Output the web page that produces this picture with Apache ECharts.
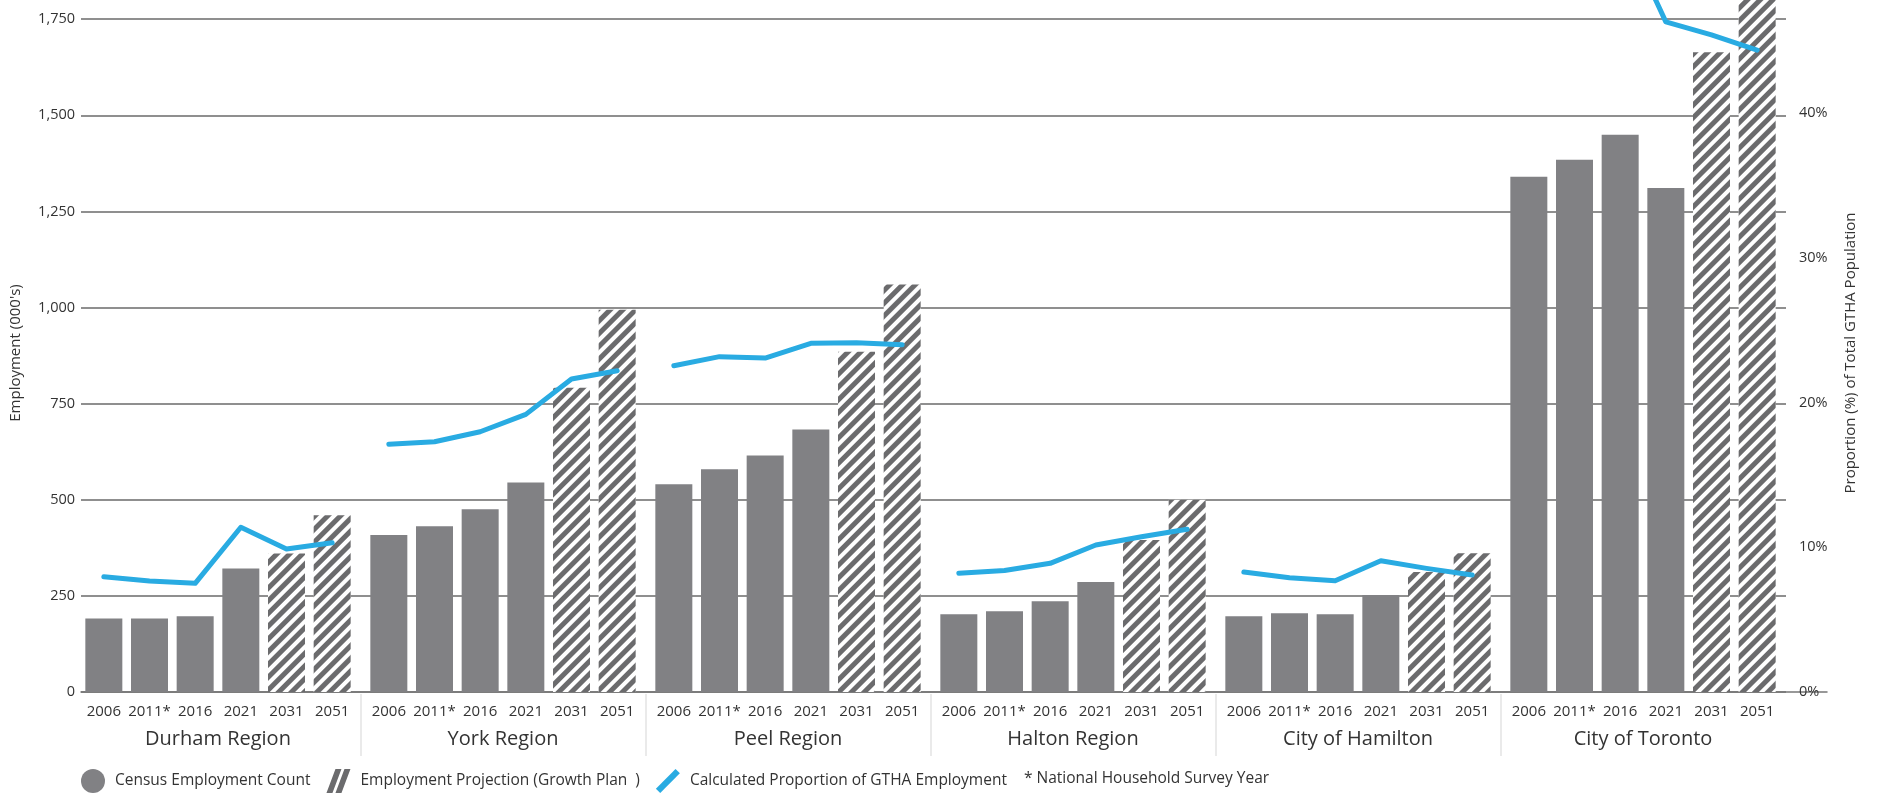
<!DOCTYPE html>
<html><head><meta charset="utf-8">
<script src="https://cdn.jsdelivr.net/npm/echarts@6/dist/echarts.min.js"></script>
<style>html,body{margin:0;padding:0;background:#fff}#c{width:1879px;height:795px}</style>
</head><body><div id="c"></div>
<script>
// ---- data ----
const years = ['2006', '2011*', '2016', '2021', '2031', '2051'];
const regions = ['Durham Region', 'York Region', 'Peel Region', 'Halton Region', 'City of Hamilton', 'City of Toronto'];
const censusYearCount = 4; // first four years are census counts, last two are projections

const durhamEmployment   = [191, 191, 197, 321, 360, 460];
const yorkEmployment     = [408, 431, 475, 545, 791, 994];
const peelEmployment     = [540, 579, 615, 683, 885, 1060];
const haltonEmployment   = [202, 210, 236, 286, 395, 500];
const hamiltonEmployment = [197, 205, 202, 252, 312, 361];
const torontoEmployment  = [1340, 1384, 1449, 1311, 1664, 1980];

const durhamShare   = [7.97, 7.67, 7.51, 11.38, 9.88, 10.31];
const yorkShare     = [17.11, 17.29, 17.98, 19.18, 21.62, 22.20];
const peelShare     = [22.54, 23.17, 23.07, 24.09, 24.13, 23.99];
const haltonShare   = [8.20, 8.40, 8.89, 10.16, 10.73, 11.24];
const hamiltonShare = [8.29, 7.90, 7.69, 9.07, 8.54, 8.08];
const torontoShare  = [51.5, 52.3, 53.1, 46.3, 45.4, 44.35];

const employmentAxis = { min: 0, max: 2000, interval: 250 };
const shareAxis = { min: 0, max: 53.13, interval: 10 };

const legendNames = ['Census Employment Count', 'Employment Projection (Growth Plan  )', 'Calculated Proportion of GTHA Employment'];
const footnote = '* National Household Survey Year';

// ---- build ----
const employmentByRegion = [durhamEmployment, yorkEmployment, peelEmployment, haltonEmployment, hamiltonEmployment, torontoEmployment];
const shareByRegion = [durhamShare, yorkShare, peelShare, haltonShare, hamiltonShare, torontoShare];

const FONT = 'Open Sans';
const TXT = '#333';
const PLOT_TOP = -77, PLOT_BOTTOM = 103;
const GROUP_W = 285, GROUP_LEFT = 76;

const grid = [], xAxis = [], yAxis = [], series = [];

// master grid: gridlines + axes labels
grid.push({ left: 81, right: 93, top: PLOT_TOP, bottom: PLOT_BOTTOM, outerBoundsMode: 'none' });
xAxis.push({ gridIndex: 0, type: 'value', min: 0, max: 1, show: false });
yAxis.push({
  gridIndex: 0, type: 'value', min: employmentAxis.min, max: employmentAxis.max, interval: employmentAxis.interval,
  position: 'left', axisLine: { show: false }, axisTick: { show: false },
  axisLabel: { margin: 6, fontSize: 14.5, color: TXT, fontFamily: FONT,
    formatter: v => v.toLocaleString('en-US') },
  splitLine: { show: true, lineStyle: { color: '#6a6a6a', width: 1.5 } }
});
yAxis.push({
  gridIndex: 0, type: 'value', min: shareAxis.min, max: shareAxis.max, interval: shareAxis.interval,
  position: 'right', axisLine: { show: false }, axisTick: { show: false },
  axisLabel: { margin: 13, fontSize: 14.5, color: TXT, fontFamily: FONT,
    formatter: v => (v % 10 === 0 ? v + '%' : '') },
  splitLine: { show: false }
});

// data grids, one per region
regions.forEach((name, k) => {
  const gi = k + 1;
  grid.push({ left: 81 + GROUP_W * k, width: 274, top: PLOT_TOP, bottom: PLOT_BOTTOM, outerBoundsMode: 'none' });
  xAxis.push({
    gridIndex: gi, type: 'category', data: years,
    axisLine: { show: false }, axisTick: { show: false },
    axisLabel: { margin: 12, fontSize: 15, color: TXT, fontFamily: FONT, interval: 0 },
    name: name, nameLocation: 'middle', nameGap: 37,
    nameTextStyle: { fontSize: 20, color: TXT, fontFamily: FONT }
  });
  const yEmp = yAxis.length;
  yAxis.push({ gridIndex: gi, type: 'value', min: employmentAxis.min, max: employmentAxis.max, show: false, splitLine: { show: false } });
  const yShare = yAxis.length;
  yAxis.push({ gridIndex: gi, type: 'value', min: shareAxis.min, max: shareAxis.max, show: false, splitLine: { show: false } });

  const emp = employmentByRegion[k];
  series.push({
    name: legendNames[0], type: 'bar', xAxisIndex: gi, yAxisIndex: yEmp,
    data: emp.map((v, i) => (i < censusYearCount ? v : '-')),
    barWidth: 37, barGap: '-100%',
    itemStyle: { color: '#818184' }
  });
  series.push({
    name: legendNames[1], type: 'bar', xAxisIndex: gi, yAxisIndex: yEmp,
    data: emp.map((v, i) => (i >= censusYearCount ? v : '-')),
    barWidth: 37, barGap: '-100%',
    itemStyle: {
      color: '#ffffff',
      decal: { symbol: 'rect', symbolSize: 1, dashArrayX: [1, 0], dashArrayY: [4.4, 3.9],
        rotation: -Math.PI / 4, color: '#6b6b6d' }
    }
  });
  series.push({
    name: legendNames[2], type: 'line', xAxisIndex: gi, yAxisIndex: yShare,
    data: shareByRegion[k], showSymbol: false, symbol: 'none', z: 5,
    lineStyle: { color: '#29abe2', width: 5, cap: 'round', join: 'round' },
    itemStyle: { color: '#29abe2' }
  });
});

// separator grid below the plot
const sepIdx = grid.length;
grid.push({ left: GROUP_LEFT, width: GROUP_W * 6, top: 694, height: 62, outerBoundsMode: 'none' });
xAxis.push({
  gridIndex: sepIdx, type: 'value', min: 0, max: 6, interval: 1,
  axisLine: { show: false }, axisTick: { show: false }, axisLabel: { show: false },
  splitLine: { show: true, showMinLine: false, showMaxLine: false, lineStyle: { color: '#e3e3e3', width: 1.5 } }
});
yAxis.push({ gridIndex: sepIdx, type: 'value', min: 0, max: 1, show: false });

// baseline extending through the right axis labels
const baseIdx = grid.length;
grid.push({ left: 81, right: 52, top: 600, bottom: PLOT_BOTTOM, outerBoundsMode: 'none' });
xAxis.push({
  gridIndex: baseIdx, type: 'value', min: 0, max: 1, position: 'bottom',
  axisLine: { show: true, onZero: false, lineStyle: { color: '#777', width: 1.5 } },
  axisTick: { show: false }, axisLabel: { show: false }, splitLine: { show: false }
});
yAxis.push({ gridIndex: baseIdx, type: 'value', min: 0, max: 1, show: false });

const option = {
  animation: false,
  backgroundColor: '#fff',
  textStyle: { fontFamily: FONT },
  grid, xAxis, yAxis, series,
  legend: {
    left: 76, top: 764, itemWidth: 24, itemHeight: 24, itemGap: 16,
    selectedMode: false,
    textStyle: { fontSize: 15.5, color: TXT, fontFamily: FONT, padding: [0, 0, 0, 5] },
    data: [
      { name: legendNames[0], icon: 'circle', itemStyle: { color: '#818184' } },
      { name: legendNames[1], icon: 'path://M9,0 L15,0 L6,24 L0,24 Z M18,0 L24,0 L15,24 L9,24 Z',
        itemStyle: { color: '#6b6b6d', decal: 'none' } },
      { name: legendNames[2], icon: 'path://M19,1 L23,5 L5,23 L1,19 Z', itemStyle: { color: '#29abe2' } }
    ]
  },
  title: {
    text: footnote, left: 1019, top: 766,
    textStyle: { fontSize: 15.5, fontWeight: 'normal', color: TXT, fontFamily: FONT }
  },
  graphic: [
    { type: 'text', x: 16, y: 353, rotation: Math.PI / 2,
      style: { text: "Employment (000's)", fontSize: 15, fill: TXT, fontFamily: FONT, align: 'center', verticalAlign: 'middle' } },
    { type: 'text', x: 1851, y: 353, rotation: Math.PI / 2,
      style: { text: 'Proportion (%) of Total GTHA Population', fontSize: 15, fill: TXT, fontFamily: FONT, align: 'center', verticalAlign: 'middle' } }
  ]
};

const chart = echarts.init(document.getElementById('c'), null, { renderer: 'canvas' });
chart.setOption(option);
</script></body></html>
